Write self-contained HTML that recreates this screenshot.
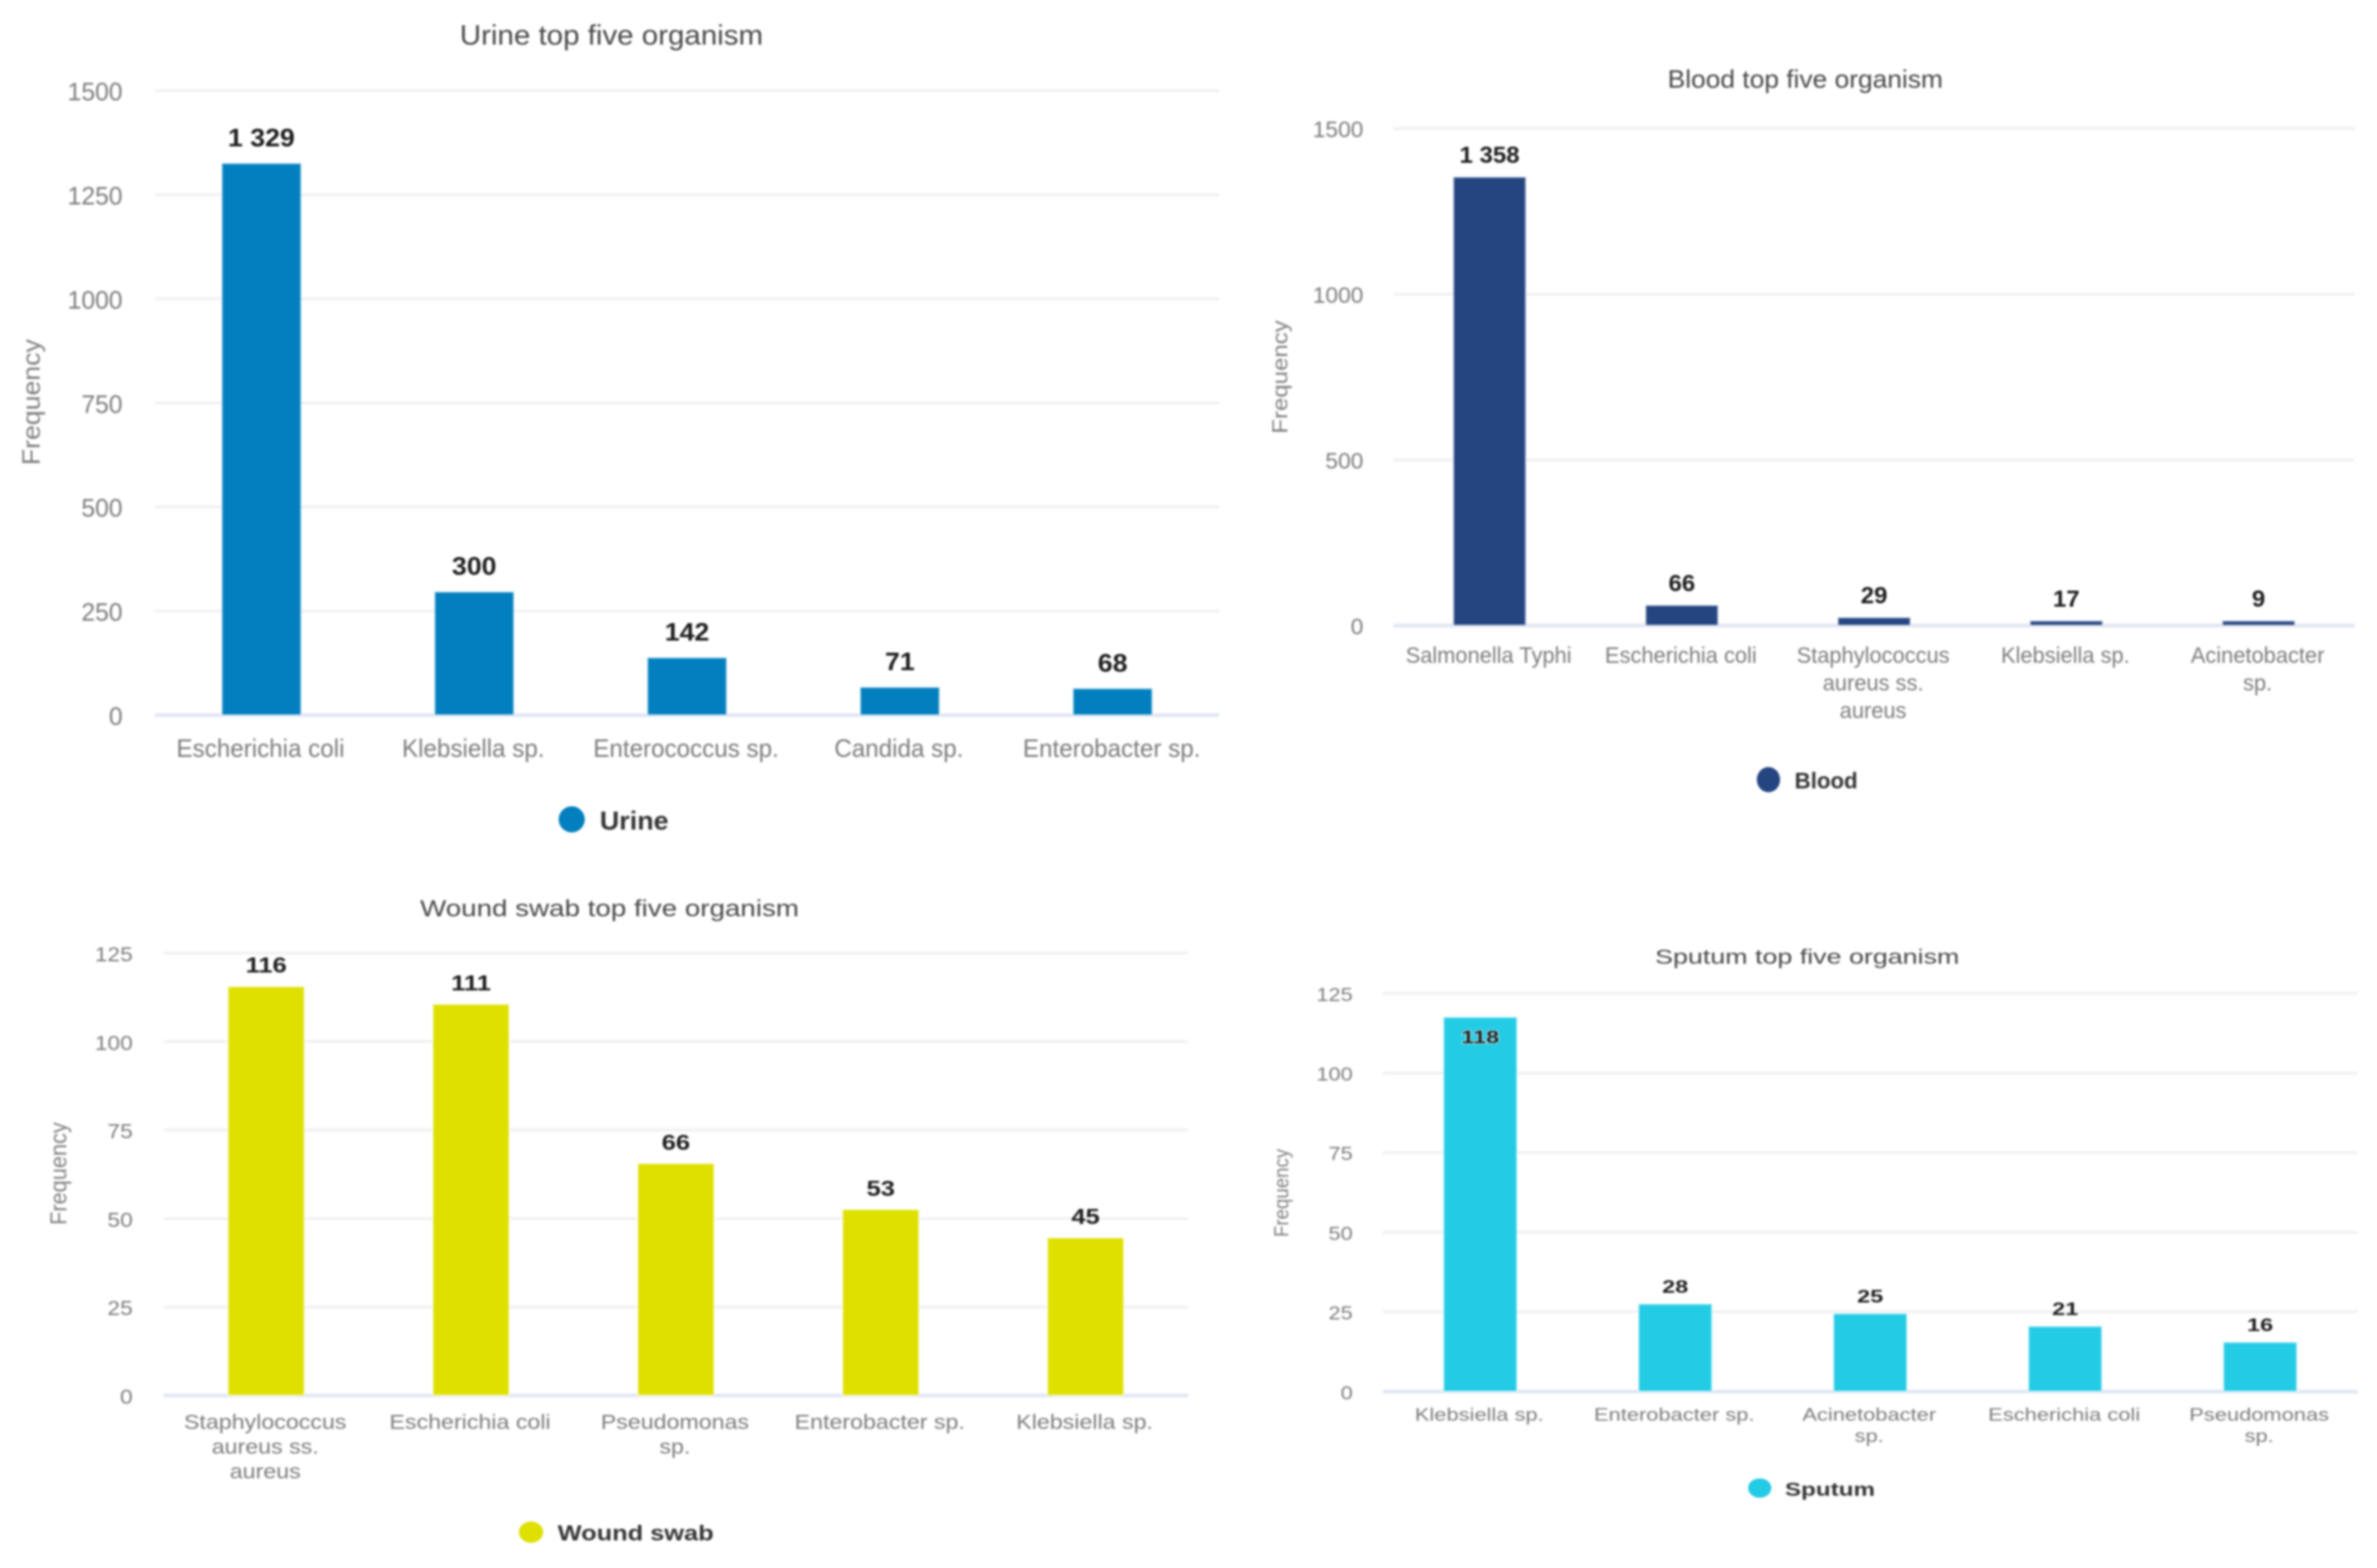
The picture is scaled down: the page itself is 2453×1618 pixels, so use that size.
<!DOCTYPE html>
<html lang="en">
<head>
<meta charset="utf-8">
<title>Top five organisms by specimen</title>
<style>
  html, body { margin: 0; padding: 0; background: #fff; }
  #figure { display: block; width: 2453px; height: 1618px; background: #fff; filter: blur(1.1px); }
  text { font-family: "Liberation Sans", sans-serif; }
</style>
</head>
<body>
<svg id="figure" xmlns="http://www.w3.org/2000/svg" width="2453" height="1618" viewBox="0 0 2453 1618"></svg>
<script>
// ---------- data: urine ----------
const urineCategories = ["Escherichia coli", "Klebsiella sp.", "Enterococcus sp.", "Candida sp.", "Enterobacter sp."];
const urineValues = [1329, 300, 142, 71, 68];
const urineTicks = [0, 250, 500, 750, 1000, 1250, 1500];
// ---------- data: blood ----------
const bloodCategories = ["Salmonella Typhi", "Escherichia coli", "Staphylococcus\naureus ss.\naureus", "Klebsiella sp.", "Acinetobacter\nsp."];
const bloodValues = [1358, 66, 29, 17, 9];
const bloodTicks = [0, 500, 1000, 1500];
// ---------- data: wound swab ----------
const woundCategories = ["Staphylococcus\naureus ss.\naureus", "Escherichia coli", "Pseudomonas\nsp.", "Enterobacter sp.", "Klebsiella sp."];
const woundValues = [116, 111, 66, 53, 45];
const woundTicks = [0, 25, 50, 75, 100, 125];
// ---------- data: sputum ----------
const sputumCategories = ["Klebsiella sp.", "Enterobacter sp.", "Acinetobacter\nsp.", "Escherichia coli", "Pseudomonas\nsp."];
const sputumValues = [118, 28, 25, 21, 16];
const sputumTicks = [0, 25, 50, 75, 100, 125];

const svg = document.getElementById('figure');
const NS = 'http://www.w3.org/2000/svg';
const BAR_TOP_INSET = 2.5;
const MIN_BAR_HEIGHT = 4;

function make(tag, attrs, parent) {
  const node = document.createElementNS(NS, tag);
  for (const key in attrs) node.setAttribute(key, attrs[key]);
  parent.appendChild(node);
  return node;
}

function formatValue(v) {
  return String(v).replace(/\B(?=(\d{3})+$)/g, ' ');
}

function slug(s) {
  return s.toLowerCase().replace(/[^a-z0-9]+/g, '-').replace(/^-|-$/g, '');
}

// Writes a text node; stretch widens/narrows the glyphs horizontally,
// targetLength forces a precise rendered length.
function label(parent, content, x, y, size, fill, anchor, weight, stretch, targetLength) {
  const node = make('text', {
    x: x,
    y: y + size * 0.35,
    'font-size': size,
    fill: fill,
    'text-anchor': anchor,
    'font-weight': weight
  }, parent);
  node.textContent = content;
  const natural = node.getComputedTextLength();
  const length = targetLength || natural * (stretch || 1);
  node.setAttribute('textLength', length.toFixed(2));
  node.setAttribute('lengthAdjust', 'spacingAndGlyphs');
  return node;
}

function drawChart(c) {
  const group = make('g', {}, svg);
  
  

  const top = c.ticks[c.ticks.length - 1];
  const yScale = v => c.bottom - (v / top) * (c.bottom - c.top);
  const step = (c.right - c.left) / c.categories.length;
  const xScale = i => c.left + step * (i + 0.5);

  const title = label(group, c.title, c.titleX, c.titleY, c.titleSize, '#484848', 'middle', 'normal', 1, c.titleWidth);
  
  

  const yTitle = label(group, 'Frequency', 0, 0, c.yTitleSize, '#808080', 'middle', 'normal', 1, c.yTitleLength);
  yTitle.setAttribute('transform', 'translate(' + c.yTitleX + ',' + c.yTitleY + ') rotate(-90)');
  
  

  c.ticks.forEach(t => {
    const y = yScale(t);
    if (t !== 0) {
      const grid = make('line', { x1: c.left, x2: c.right, y1: y, y2: y, stroke: '#f1f1f3', 'stroke-width': 3 }, group);
      
      
    }
    const tick = label(group, String(t), c.tickRight, y + 1, c.tickSize, '#7c7c7c', 'end', 'normal', c.tickStretch);
    
    
  });

  const axis = make('line', { x1: c.left, x2: c.right, y1: c.bottom, y2: c.bottom, stroke: '#e2e7f4', 'stroke-width': 4 }, group);
  
  

  c.values.forEach((v, i) => {
    const cx = xScale(i);
    const y = Math.min(yScale(v) + BAR_TOP_INSET, c.bottom - MIN_BAR_HEIGHT);
    const h = c.bottom - y;
    const bar = make('rect', {
      x: cx - c.barWidth / 2 - 1,
      y: y - 1,
      width: c.barWidth + 2,
      height: h + 1,
      fill: c.color,
      stroke: '#ffffff',
      'stroke-opacity': 0.55,
      'stroke-width': 2
    }, group);
    
    

    const labelY = i === c.insideIndex ? y + c.insideOffset : y - c.valueOffset;
    const value = label(group, formatValue(v), cx, labelY, c.valueSize, '#1c1c1c', 'middle', 'bold', c.valueStretch);
    value.setAttribute('stroke', '#ffffff');
    value.setAttribute('stroke-width', '1.5');
    value.setAttribute('stroke-opacity', '0.7');
    value.setAttribute('paint-order', 'stroke');
    
    

    c.categories[i].split('\n').forEach((line, n) => {
      const cat = label(group, line, cx - 1, c.catY + n * c.catLine, c.catSize, '#7c7c7c', 'middle', 'normal', c.catStretch);
      
      
    });
  });

  const legend = make('g', {}, group);
  
  
  const dot = make('ellipse', { cx: c.legendX, cy: c.legendY, rx: c.legendRx, ry: c.legendRy, fill: c.color }, legend);
  
  
  const legendText = label(legend, c.series, c.legendTextX, c.legendY + 1, c.legendSize, '#333333', 'start', 'bold', 1, c.legendWidth);
  
  
}

drawChart({
  key: 'urine', series: 'Urine', title: 'Urine top five organism', color: '#027fbe',
  categories: urineCategories, values: urineValues, ticks: urineTicks,
  left: 160, right: 1258, top: 93.4, bottom: 738, barWidth: 80,
  titleX: 631, titleY: 36, titleSize: 29, titleWidth: 313,
  yTitleX: 32, yTitleY: 415, yTitleSize: 26, yTitleLength: 130,
  tickRight: 126.5, tickSize: 26, tickStretch: 0.98,
  catY: 772, catLine: 29, catSize: 26, catStretch: 0.96,
  valueSize: 26, valueStretch: 1.06, valueOffset: 27.5,
  legendX: 590, legendY: 845.5, legendRx: 13.5, legendRy: 13.5,
  legendTextX: 619, legendSize: 27, legendWidth: 71
});

drawChart({
  key: 'blood', series: 'Blood', title: 'Blood top five organism', color: '#254581',
  categories: bloodCategories, values: bloodValues, ticks: bloodTicks,
  left: 1438, right: 2430, top: 132.5, bottom: 645.5, barWidth: 73,
  titleX: 1863, titleY: 81.5, titleSize: 26, titleWidth: 284,
  yTitleX: 1321, yTitleY: 389, yTitleSize: 22, yTitleLength: 117,
  tickRight: 1407, tickSize: 23.5, tickStretch: 1,
  catY: 676, catLine: 28.5, catSize: 23, catStretch: 0.98,
  valueSize: 24, valueStretch: 1.03, valueOffset: 24,
  legendX: 1825, legendY: 804.5, legendRx: 12, legendRy: 13,
  legendTextX: 1852, legendSize: 23, legendWidth: 65
});

drawChart({
  key: 'wound-swab', series: 'Wound swab', title: 'Wound swab top five organism', color: '#dee000',
  categories: woundCategories, values: woundValues, ticks: woundTicks,
  left: 169, right: 1226, top: 983.5, bottom: 1440, barWidth: 77,
  titleX: 629, titleY: 937, titleSize: 24, titleWidth: 391,
  yTitleX: 60, yTitleY: 1211, yTitleSize: 24, yTitleLength: 106,
  tickRight: 137, tickSize: 21.5, tickStretch: 1.09,
  catY: 1467, catLine: 25.5, catSize: 21, catStretch: 1.14,
  valueSize: 22.5, valueStretch: 1.17, valueOffset: 23,
  legendX: 548, legendY: 1581, legendRx: 12.5, legendRy: 11,
  legendTextX: 575.5, legendSize: 22, legendWidth: 161
});

drawChart({
  key: 'sputum', series: 'Sputum', title: 'Sputum top five organism', color: '#24cbe5',
  categories: sputumCategories, values: sputumValues, ticks: sputumTicks,
  left: 1427, right: 2433, top: 1025, bottom: 1436, barWidth: 74,
  titleX: 1865, titleY: 987, titleSize: 21, titleWidth: 314,
  yTitleX: 1322, yTitleY: 1231, yTitleSize: 21, yTitleLength: 91,
  tickRight: 1396, tickSize: 19.5, tickStretch: 1.15,
  catY: 1459.5, catLine: 22, catSize: 18.5, catStretch: 1.22,
  valueSize: 18.5, valueStretch: 1.31, valueOffset: 19,
  insideIndex: 0, insideOffset: 19.5,
  legendX: 1816, legendY: 1535.5, legendRx: 12, legendRy: 10,
  legendTextX: 1842, legendSize: 19.5, legendWidth: 93
});
</script>
</body>
</html>
